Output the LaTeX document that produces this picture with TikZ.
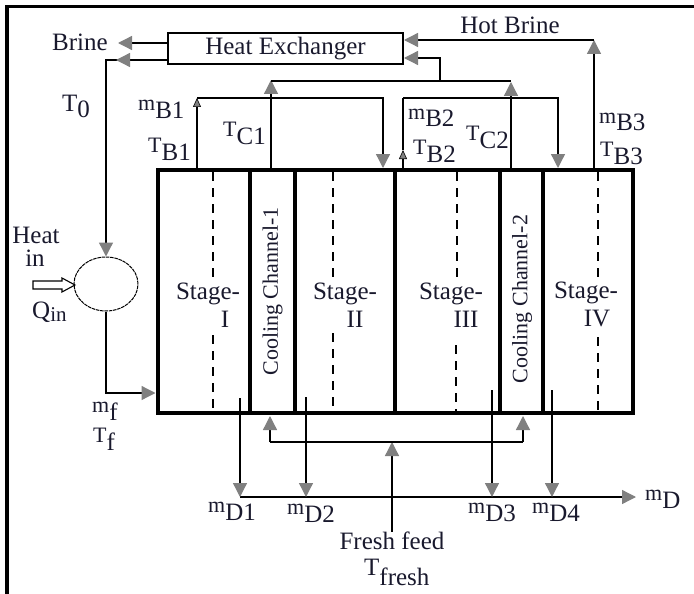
\documentclass[tikz,border=0pt]{standalone}
\usepackage{fontspec}
\setmainfont{Liberation Serif}
\usetikzlibrary{arrows.meta,shapes.geometric}
\definecolor{tc}{RGB}{25,25,45}
\definecolor{ag}{RGB}{128,128,128}
\newcommand\sbl[2]{\raisebox{8pt}{#1}{\fontsize{25}{25}\selectfont #2}}
\begin{document}
\begin{tikzpicture}[x=1pt,y=-1pt,
  thinl/.style={line width=1.3pt},
  gtip/.tip={Triangle[length=14pt,width=14pt,fill=ag,color=ag]},
  stip/.tip={Triangle[length=9pt,width=8pt,fill=ag,color=black,line width=0.6pt]},
  lab/.style={font=\fontsize{25}{28}\selectfont, text=tc, inner sep=0pt},
  sl/.style={font=\fontsize{22}{24}\selectfont, text=tc, inner sep=0pt, anchor=base west},
  blk/.style={draw, line width=4.5pt, minimum height=243pt, inner sep=0pt},
  dsh/.style={line width=1.3pt, dash pattern=on 9pt off 7pt},
  ccl/.style={font=\fontsize{22}{22}\selectfont, text=tc, rotate=90, inner sep=0pt},
]
\useasboundingbox (0,0) rectangle (694,594);
% frame
\draw[line width=3.5pt] (7,594) -- (7,6.5) -- (694,6.5);

% heat exchanger
\node[draw, line width=1.2pt, minimum width=235pt, minimum height=31pt, lab] (hx) at (285.5,48.5) {Heat Exchanger};
\node[lab] (brine) at (80,42) {Brine};
\draw[thinl,-gtip] (168,43) -- (118,43);
\node[draw, ellipse, line width=1pt, dash pattern=on 3.5pt off 0.8pt, minimum width=64pt, minimum height=54pt, inner sep=0pt] (circ) at (106,284) {};
\draw[thinl,-gtip] (168,60) -- (106,60) -- (circ.north);
\draw[thinl,-gtip] (140,60) -- (116,60);
\node[lab] (t0) at (76,106) {T\raisebox{-6pt}{0}};

% heat in
\node[lab] (heat) at (36,235) {Heat};
\node[lab] (hin) at (35,258) {in};
\draw[line width=1.1pt, fill=white] (33,281) -- (62,281) -- (62,278) -- (75,285) -- (62,292) -- (62,289) -- (33,289) -- cycle;
\node[lab, anchor=base west] (qin) at (32,318) {Q\raisebox{-3pt}{\fontsize{21}{21}\selectfont in}};

% stages
\node[blk, minimum width=92pt] (s1) at (204,291.5) {};
\node[blk, minimum width=45pt] (c1) at (272.5,291.5) {};
\node[blk, minimum width=100pt] (s2) at (345,291.5) {};
\node[blk, minimum width=105pt] (s3) at (447.5,291.5) {};
\node[blk, minimum width=43pt] (c2) at (521.5,291.5) {};
\node[blk, minimum width=90pt] (s4) at (588,291.5) {};

% feed into stage I
\draw[thinl,-gtip] (circ.south) -- (106,393) -- (155.5,393);
\node[sl] (mf) at (92,420) {\sbl{m}{f}};
\node[sl] (tf) at (93,450) {\sbl{T}{f}};

% dashed lines
\draw[dsh] (213,172) -- (213,278);  \draw[dsh] (213,335) -- (213,411);
\draw[dsh] (333,172) -- (333,283);  \draw[dsh] (333,333) -- (333,411);
\draw[dsh] (457,172) -- (457,280);  \draw[dsh] (456,345) -- (456,411);
\draw[dsh] (598,172) -- (598,277);  \draw[dsh] (598,337) -- (598,411);

% stage labels
\node[lab] (st1) at (208,294) {Stage-};  \node[lab] (st1b) at (225,319) {I};
\node[lab] (st2) at (345,294) {Stage-};  \node[lab] (st2b) at (355,319) {II};
\node[lab] (st3) at (451,294) {Stage-};  \node[lab] (st3b) at (466,319) {III};
\node[lab] (st4) at (586,293) {Stage-};  \node[lab] (st4b) at (597,319) {IV};
\node[ccl] (cc1) at (c1) {Cooling Channel-1};
\node[ccl] (cc2) at (522,299) {Cooling Channel-2};

% distillate
\draw[thinl,-gtip] (240,497) -- (636,497);
\draw[thinl,-gtip] (240,398) -- (240,497);
\draw[thinl,-gtip] (306,397) -- (306,497);
\draw[thinl,-gtip] (492,390) -- (492,497);
\draw[thinl,-gtip] (552,390) -- (552,497);
\node[sl] (md1) at (208,520) {\sbl{m}{D1}};
\node[sl] (md2) at (287,522) {\sbl{m}{D2}};
\node[sl] (md3) at (468,521) {\sbl{m}{D3}};
\node[sl] (md4) at (532,521) {\sbl{m}{D4}};
\node[sl] (md) at (645,508) {\sbl{m}{D}};

% fresh feed
\node[lab] (ff) at (392,541) {Fresh feed};
\node[lab, anchor=base west] (tfr) at (364,585) {\raisebox{10pt}{T}fresh};
\draw[thinl,-gtip] (ff.north) -- (392,442);
\draw[thinl] (270,442) -- (523,442);
\draw[thinl,-gtip] (270,442) -- (270,416);
\draw[thinl,-gtip] (523,442) -- (523,416);

% top brine / coolant lines
\draw[thinl,-stip] (197,168) -- (197,98);
\draw[thinl,-gtip] (197,98) -- (383,98) -- (383,168);
\draw[thinl,-gtip] (271,168) -- (271,80);
\draw[thinl] (271,81) -- (511,81);
\draw[thinl,-gtip] (511,168) -- (511,82);
\draw[thinl,-gtip] (440,81) -- (440,58) -- (404,58);
\draw[thinl,-gtip] (594,168) -- (594,40);
\draw[thinl,-gtip] (594,40) -- (404,40);
\node[lab] (hb) at (510,25) {Hot Brine};
\draw[thinl,-gtip] (403,98) -- (558,98) -- (558,168);
\draw[thinl,-stip] (403,168) -- (403,150);
\draw[thinl] (403,150) -- (403,98);

% top labels
\node[sl] (mb1) at (138,118) {\sbl{m}{B1}};
\node[sl] (tb1) at (148,160) {\sbl{T}{B1}};
\node[sl] (tc1) at (223,144) {\sbl{T}{C1}};
\node[sl] (mb2) at (408,127) {\sbl{m}{B2}};
\node[sl] (tb2) at (413,162) {\sbl{T}{B2}};
\node[sl] (tc2) at (466,148) {\sbl{T}{C2}};
\node[sl] (mb3) at (599,131) {\sbl{m}{B3}};
\node[sl] (tb3) at (600,164) {\sbl{T}{B3}};
\end{tikzpicture}
\end{document}
